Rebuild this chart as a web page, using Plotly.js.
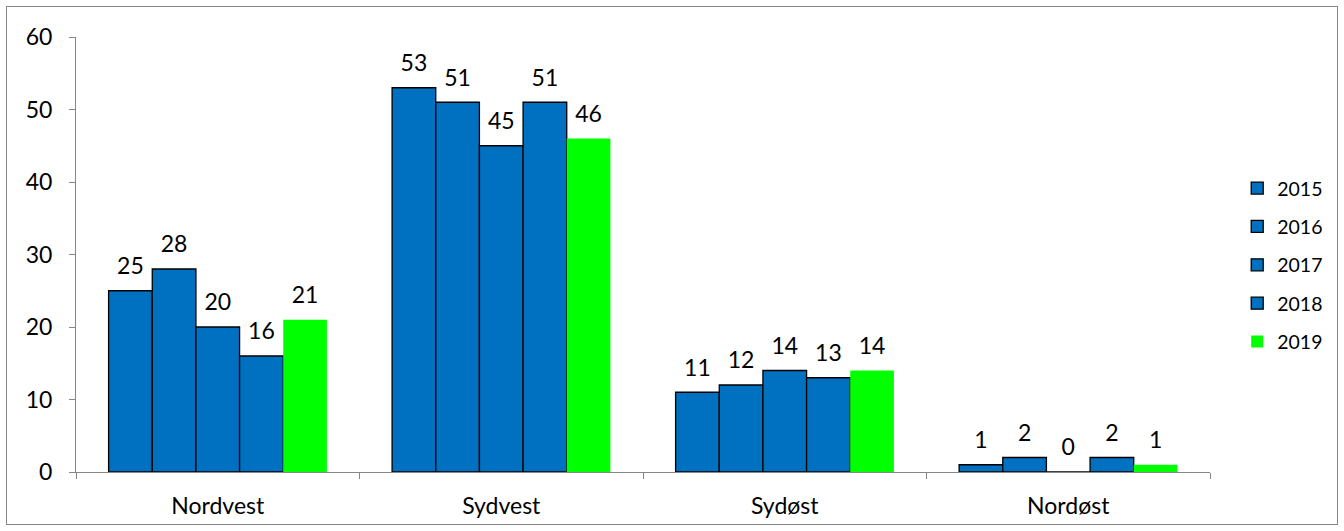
<!DOCTYPE html>
<html><head><meta charset="utf-8">
<script src="https://cdn.plot.ly/plotly-3.0.1.min.js"></script>
<style>body{margin:0;background:#fff}#wrap{position:relative;width:1344px;height:531px}#frame{position:absolute;left:6px;top:6px;width:1330px;height:517px;border:1px solid #868686;pointer-events:none}</style>
</head><body><div id="wrap"><div id="chart" style="width:1344px;height:531px"></div><div id="frame"></div></div>
<script>
const categories = ["Nordvest","Sydvest","Sydøst","Nordøst"];
const years = ["2015","2016","2017","2018","2019"];
const v2015 = [25,53,11,1];
const v2016 = [28,51,12,2];
const v2017 = [20,45,14,0];
const v2018 = [16,51,13,2];
const v2019 = [21,46,14,1];
const values = [v2015,v2016,v2017,v2018,v2019];
const blue = "#0070C0", green = "#00FF00";
const font = "Lato, 'Liberation Sans', sans-serif";
const traces = [];
values.forEach((vals,i)=>{
  const isLast = i===4;
  traces.push({type:"bar", name:years[i], x:categories, y:vals,
    marker:{color:isLast?green:blue, line:{color:isLast?green:"#000", width:isLast?0:1.3}},
    legendgroup:years[i], hoverinfo:"skip"});
});
values.forEach((vals,i)=>{
  traces.push({type:"scatter", mode:"markers+text", x:categories, y:vals,
    text:vals.map(String), textposition:"top center",
    textfont:{family:font,size:23,color:"#000"},
    marker:{size:16,color:"rgba(0,0,0,0)"}, showlegend:false, cliponaxis:false,
    legendgroup:years[i], hoverinfo:"skip"});
});
const layout = {
  width:1344, height:531,
  margin:{l:76,r:134,t:37,b:59},
  paper_bgcolor:"#fff", plot_bgcolor:"#fff",
  barmode:"group", bargap:0.23, bargroupgap:0,
  scattermode:"group", scattergap:0.23,
  font:{family:font,size:23,color:"#000"},
  showlegend:true,
  legend:{x:1.024,xanchor:"left",y:0.476,yanchor:"middle",traceorder:"grouped",tracegroupgap:10,
    font:{family:font,size:19.5,color:"#000"}, itemwidth:30},
  xaxis:{type:"category", tickson:"boundaries", ticks:"outside", ticklen:6, tickcolor:"#868686",
    showline:true, linecolor:"#868686", linewidth:1, showgrid:false, zeroline:false,
    ticklabelstandoff:13, tickfont:{family:font,size:23}},
  yaxis:{range:[0,60], dtick:10, ticks:"outside", ticklen:6, tickcolor:"#868686",
    showline:true, linecolor:"#868686", linewidth:1, showgrid:false, zeroline:false,
    ticklabelstandoff:12, tickfont:{family:font,size:23}}
};
Plotly.newPlot("chart", traces, layout, {displayModeBar:false, staticPlot:true});
</script></body></html>
